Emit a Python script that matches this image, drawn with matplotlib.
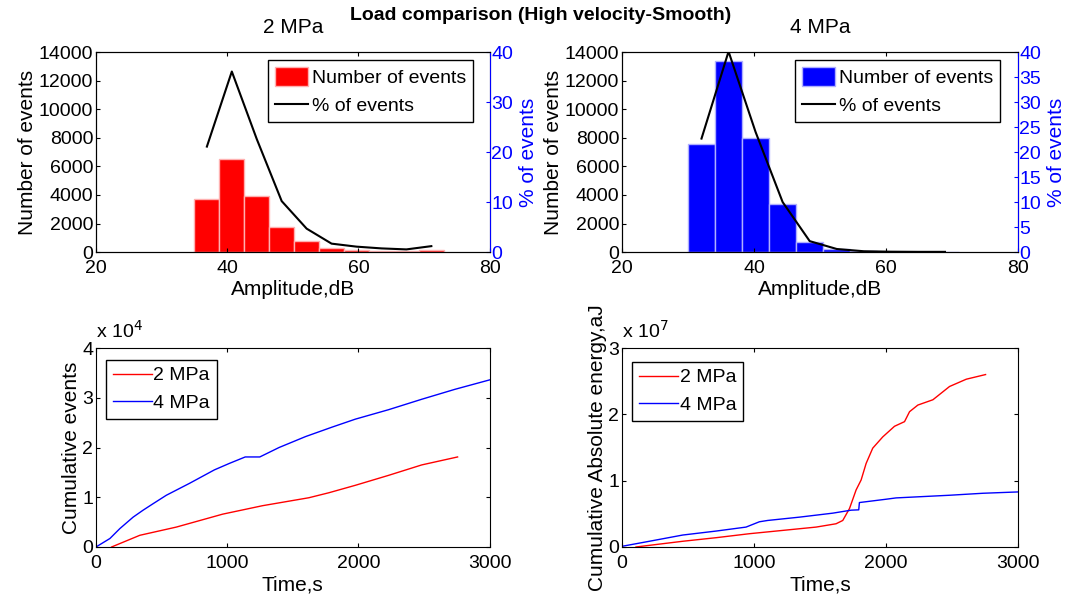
import matplotlib
matplotlib.use('Agg')
import matplotlib.pyplot as plt
from matplotlib.patches import Patch
from matplotlib.lines import Line2D
from matplotlib.ticker import FuncFormatter

plt.rcParams['font.family'] = ['Liberation Sans', 'DejaVu Sans']

# amplitude histograms (bin centres in dB, counts, % of events)
amp_2mpa = [36.9, 40.7, 44.5, 48.3, 52.1, 55.9, 59.7, 63.5, 67.3, 71.1]
cnt_2mpa = [3700, 6490, 3930, 1780, 800, 310, 170, 100, 90, 140]
pct_2mpa = [21.1, 36.1, 22.6, 10.2, 4.7, 1.7, 1.1, 0.75, 0.55, 1.2]
width_2mpa = 3.8

amp_4mpa = [32.05, 36.15, 40.25, 44.35, 48.45, 52.55, 56.65, 60.75, 64.85, 68.95]
cnt_4mpa = [7570, 13370, 8020, 3340, 730, 210, 60, 30, 20, 20]
pct_4mpa = [22.7, 40.1, 24.0, 10.0, 2.2, 0.63, 0.18, 0.09, 0.06, 0.06]
width_4mpa = 4.1

# cumulative events vs time
t_ev2 = [119, 334, 612, 965, 1269, 1622, 1774, 1976, 2229, 2482, 2755]
ev2 = [0, 2350, 4000, 6600, 8300, 9900, 10900, 12400, 14400, 16500, 18100]
t_ev4 = [0, 106, 182, 283, 359, 435, 536, 713, 902, 1016, 1137, 1248, 1395,
         1597, 1799, 1976, 2229, 2482, 2735, 3000]
ev4 = [0, 1700, 3700, 6000, 7400, 8700, 10400, 12800, 15500, 16800, 18100,
       18100, 20000, 22200, 24100, 25700, 27600, 29700, 31700, 33600]

# cumulative absolute energy vs time
t_en2 = [106, 460, 713, 965, 1218, 1471, 1622, 1673, 1724, 1774, 1812, 1850,
         1900, 1976, 2065, 2141, 2179, 2242, 2356, 2482, 2609, 2755]
en2 = [0, 0.086e7, 0.14e7, 0.20e7, 0.25e7, 0.30e7, 0.35e7, 0.40e7, 0.58e7,
       0.86e7, 1.01e7, 1.26e7, 1.49e7, 1.66e7, 1.82e7, 1.89e7, 2.04e7, 2.14e7,
       2.22e7, 2.42e7, 2.53e7, 2.60e7]
t_en4 = [0, 207, 460, 713, 940, 1041, 1104, 1345, 1597, 1736, 1794, 1799,
         2001, 2077, 2482, 2735, 3000]
en4 = [0.01e7, 0.086e7, 0.18e7, 0.24e7, 0.30e7, 0.38e7, 0.40e7, 0.45e7,
       0.51e7, 0.555e7, 0.56e7, 0.67e7, 0.72e7, 0.74e7, 0.78e7, 0.81e7, 0.83e7]

FS = 14
LFS = 15


def hist_panel(rect, centres, counts, pct, width, colour, edge, title, pct_ticks,
               leg_x, rpad):
    ax = fig.add_axes(rect)
    ax.bar(centres, counts, width=width, color=colour, edgecolor=edge, linewidth=1)
    ax.set_xlim(20, 80)
    ax.set_ylim(0, 14000)
    ax.set_xticks([20, 40, 60, 80])
    ax.set_yticks(range(0, 14001, 2000))
    ax.tick_params(direction='in', top=True, right=True, labelsize=FS, length=3, pad=2)
    ax.tick_params(axis='x', pad=6)
    ax.set_xlabel('Amplitude,dB', fontsize=LFS, labelpad=2)
    ax.set_ylabel('Number of events', fontsize=LFS, labelpad=1)
    ax.set_title(title, fontsize=FS + 1, pad=14)
    ax2 = ax.twinx()
    ax2.plot(centres, pct, color='black', lw=1.5)
    ax2.set_ylim(0, 40)
    ax2.set_yticks(pct_ticks)
    ax2.tick_params(direction='in', colors='blue', labelsize=FS, length=3, pad=1)
    ax2.spines['right'].set_color('blue')
    ax2.set_ylabel('% of events', color='blue', fontsize=LFS, labelpad=rpad)
    handles = [Patch(facecolor=colour, edgecolor=edge),
               Line2D([], [], color='black', lw=1.5)]
    ax2.legend(handles, ['Number of events', '% of events'], loc='upper right',
               bbox_to_anchor=(leg_x, 0.96), fontsize=FS, fancybox=False,
               edgecolor='black', framealpha=1, borderaxespad=0,
               handlelength=1.7, handleheight=1.1, handletextpad=0.2,
               borderpad=0.35, labelspacing=0.45)
    return ax


def cum_panel(rect, xs, ys, ymax, scale, exp_txt, ylabel, leg_y):
    ax = fig.add_axes(rect)
    ax.plot(xs[0], ys[0], color='red', lw=1, label='2 MPa')
    ax.plot(xs[1], ys[1], color='blue', lw=1, label='4 MPa')
    ax.set_xlim(0, 3000)
    ax.set_ylim(0, ymax * scale)
    ax.set_xticks([0, 1000, 2000, 3000])
    ax.set_yticks([i * scale for i in range(ymax + 1)])
    ax.yaxis.set_major_formatter(FuncFormatter(lambda v, p: '%g' % (v / scale)))
    ax.tick_params(direction='in', top=True, right=True, labelsize=FS, length=3, pad=2)
    ax.tick_params(axis='x', pad=6)
    ax.set_xlabel('Time,s', fontsize=LFS, labelpad=2)
    ax.set_ylabel(ylabel, fontsize=LFS, labelpad=1)
    ax.text(0.0, 1.03, 'x 10$^{%s}$' % exp_txt, transform=ax.transAxes,
            fontsize=FS, ha='left', va='bottom')
    ax.legend(loc='upper left', bbox_to_anchor=(0.025, leg_y), fontsize=FS,
              fancybox=False, edgecolor='black', framealpha=1, borderaxespad=0,
              handlelength=2.0, handletextpad=0.1, borderpad=0.35, labelspacing=0.5)
    return ax


fig = plt.figure(figsize=(10.7, 6.15), dpi=100)

hist_panel([0.0897, 0.590, 0.368, 0.3254], amp_2mpa, cnt_2mpa, pct_2mpa, width_2mpa,
           'red', '#ffb0b0', '2 MPa', [0, 10, 20, 30, 40], 0.957, 4)
hist_panel([0.5813, 0.590, 0.370, 0.3254], amp_4mpa, cnt_4mpa, pct_4mpa, width_4mpa,
           'blue', '#b0b0ff', '4 MPa', list(range(0, 41, 5)), 0.955, 4)

cum_panel([0.0897, 0.1106, 0.368, 0.3235], [t_ev2, t_ev4], [ev2, ev4], 4, 1e4, '4',
          'Cumulative events', 0.94)
cum_panel([0.5813, 0.1106, 0.370, 0.3235], [t_en2, t_en4], [en2, en4], 3, 1e7, '7',
          'Cumulative Absolute energy,aJ', 0.93)

fig.text(0.505, 0.975, 'Load comparison (High velocity-Smooth)', fontsize=FS,
         fontweight='bold', ha='center', va='center')

fig.savefig('out.png', dpi=100)
